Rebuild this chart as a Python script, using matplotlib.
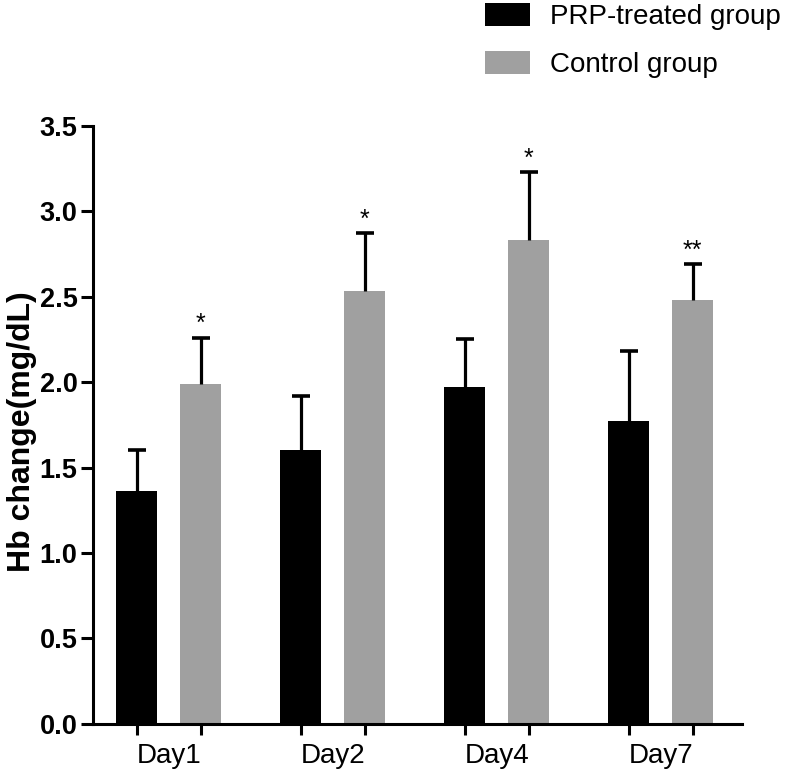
import numpy as np
import matplotlib
matplotlib.use("Agg")
import matplotlib.pyplot as plt

# values
days = ["Day1", "Day2", "Day4", "Day7"]
prp_mean = [1.36, 1.60, 1.97, 1.77]
prp_sd = [0.24, 0.32, 0.28, 0.41]
ctrl_mean = [1.99, 2.53, 2.83, 2.48]
ctrl_sd = [0.27, 0.34, 0.40, 0.21]
stars = ["*", "*", "*", "**"]

plt.rcParams["font.family"] = ["Liberation Sans", "DejaVu Sans"]

BLACK = "#000000"
GRAY = "#a0a0a0"


def draw_sd(ax, x, mean, sd):
    top = np.array(mean) + np.array(sd)
    ax.vlines(x, mean, top, color="black", lw=2.3, zorder=3)
    ax.plot(x, top, ls="none", marker="_", ms=13.5, mew=2.6, color="black", zorder=3)
    return top


fig = plt.figure(figsize=(8, 7.71), dpi=100)
ax = fig.add_axes([0.116, 0.061, 0.811, 0.776])

x = np.arange(len(days))
off = 0.195
w = 0.25

ax.bar(x - off, prp_mean, w, color=BLACK, label="PRP-treated group", zorder=2)
ax.bar(x + off, ctrl_mean, w, color=GRAY, label="Control group", zorder=2)

draw_sd(ax, x - off, prp_mean, prp_sd)
ctrl_top = draw_sd(ax, x + off, ctrl_mean, ctrl_sd)

for xi, yi, s in zip(x + off, ctrl_top, stars):
    ax.annotate(s, (xi, yi), xytext=(0, 1), textcoords="offset points",
                ha="center", va="bottom", fontsize=18)

ax.set_xlim(-0.463, 3.494)
ax.set_ylim(0, 3.5)
ax.set_yticks(np.arange(0, 3.51, 0.5))
ax.set_yticklabels([f"{v:.1f}" for v in np.arange(0, 3.51, 0.5)],
                   fontsize=19.5, fontweight="bold")

# ticks under every bar, group names centred between them
ax.set_xticks(np.concatenate([x - off, x + off]))
ax.set_xticklabels([])
ax.set_xticks(x, minor=True)
ax.set_xticklabels(days, minor=True, fontsize=20)
ax.tick_params(axis="x", which="minor", length=0, pad=14)
ax.tick_params(axis="x", which="major", length=8, width=2.2)
ax.tick_params(axis="y", length=9, width=2.2, pad=2)

for side in ["top", "right"]:
    ax.spines[side].set_visible(False)
for side in ["left", "bottom"]:
    ax.spines[side].set_linewidth(2.2)

ax.set_ylabel("Hb change(mg/dL)", fontsize=23, fontweight="bold")
ax.yaxis.set_label_coords(-0.086, 0.488)

fig.legend(loc="upper left", bbox_to_anchor=(0.603, 1.0), frameon=False,
           fontsize=20, handlelength=1.6, handleheight=0.9,
           handletextpad=0.75, labelspacing=0.75, borderpad=0.1,
           borderaxespad=0)

fig.savefig("out.png", dpi=100)
